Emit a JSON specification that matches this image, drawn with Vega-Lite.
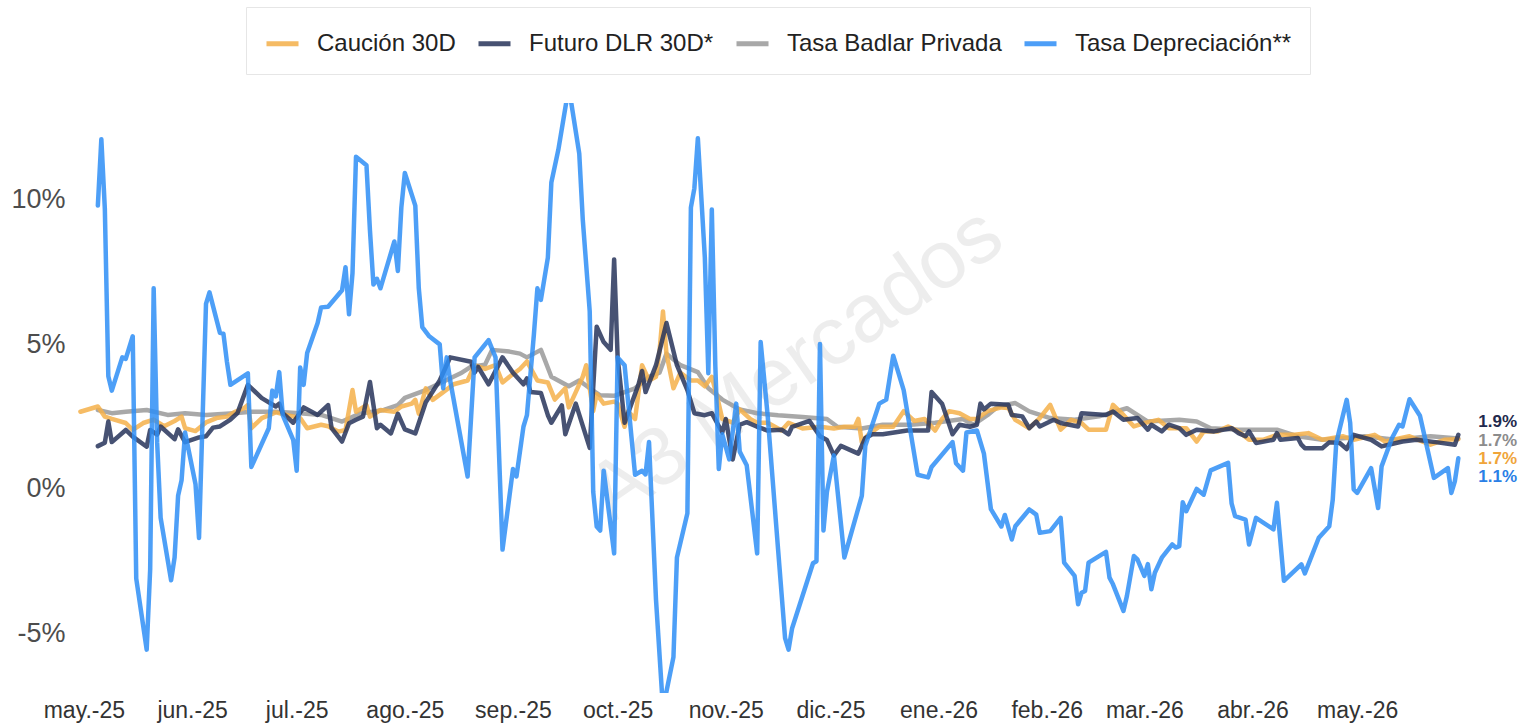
{
  "$schema": "https://vega.github.io/schema/vega-lite/v6.json",
  "width": 1399,
  "height": 590,
  "autosize": {"type": "none"},
  "padding": {"left": 73, "top": 103, "right": 57, "bottom": 30},
  "background": "white",
  "config": {
    "view": {"stroke": null},
    "font": "Liberation Sans",
    "axis": {"domain": false, "ticks": false, "tickSize": 0, "title": null, "labelFont": "Liberation Sans"}
  },
  "datasets": {
    "marca": [{"texto": "A3 Mercados"}],
    "caucion": [
      {"fecha": "2025-04-30", "valor": 2.67}, {"fecha": "2025-05-05", "valor": 2.85}, {"fecha": "2025-05-07", "valor": 2.5}, {"fecha": "2025-05-09", "valor": 2.42}, {"fecha": "2025-05-13", "valor": 2.28}, {"fecha": "2025-05-15", "valor": 2.04}, {"fecha": "2025-05-18", "valor": 2.28}, {"fecha": "2025-05-21", "valor": 2.4}, {"fecha": "2025-05-24", "valor": 2.17}, {"fecha": "2025-05-27", "valor": 2.35}, {"fecha": "2025-05-29", "valor": 2.5}, {"fecha": "2025-05-30", "valor": 2.1},
      {"fecha": "2025-06-02", "valor": 2.0}, {"fecha": "2025-06-05", "valor": 2.3}, {"fecha": "2025-06-08", "valor": 2.45}, {"fecha": "2025-06-11", "valor": 2.5}, {"fecha": "2025-06-13", "valor": 2.65}, {"fecha": "2025-06-16", "valor": 2.8}, {"fecha": "2025-06-17", "valor": 2.9}, {"fecha": "2025-06-18", "valor": 2.1}, {"fecha": "2025-06-21", "valor": 2.45}, {"fecha": "2025-06-25", "valor": 2.65}, {"fecha": "2025-06-28", "valor": 2.56},
      {"fecha": "2025-07-02", "valor": 2.45}, {"fecha": "2025-07-04", "valor": 2.1}, {"fecha": "2025-07-08", "valor": 2.22}, {"fecha": "2025-07-10", "valor": 2.17}, {"fecha": "2025-07-13", "valor": 1.98}, {"fecha": "2025-07-15", "valor": 2.04}, {"fecha": "2025-07-17", "valor": 3.42}, {"fecha": "2025-07-18", "valor": 2.67}, {"fecha": "2025-07-21", "valor": 2.9}, {"fecha": "2025-07-22", "valor": 2.5}, {"fecha": "2025-07-25", "valor": 2.73}, {"fecha": "2025-07-29", "valor": 2.67}, {"fecha": "2025-07-31", "valor": 2.85},
      {"fecha": "2025-08-03", "valor": 2.95}, {"fecha": "2025-08-04", "valor": 3.08}, {"fecha": "2025-08-05", "valor": 2.6}, {"fecha": "2025-08-07", "valor": 3.48}, {"fecha": "2025-08-09", "valor": 3.08}, {"fecha": "2025-08-12", "valor": 3.35}, {"fecha": "2025-08-15", "valor": 3.62}, {"fecha": "2025-08-19", "valor": 3.75}, {"fecha": "2025-08-21", "valor": 4.28}, {"fecha": "2025-08-24", "valor": 4.15}, {"fecha": "2025-08-27", "valor": 4.28}, {"fecha": "2025-08-29", "valor": 3.68}, {"fecha": "2025-08-31", "valor": 3.88},
      {"fecha": "2025-09-03", "valor": 4.15}, {"fecha": "2025-09-05", "valor": 4.41}, {"fecha": "2025-09-08", "valor": 3.75}, {"fecha": "2025-09-11", "valor": 3.68}, {"fecha": "2025-09-13", "valor": 3.09}, {"fecha": "2025-09-16", "valor": 3.48}, {"fecha": "2025-09-17", "valor": 2.82}, {"fecha": "2025-09-19", "valor": 3.35}, {"fecha": "2025-09-21", "valor": 3.88}, {"fecha": "2025-09-22", "valor": 4.28}, {"fecha": "2025-09-24", "valor": 2.69}, {"fecha": "2025-09-25", "valor": 3.28}, {"fecha": "2025-09-27", "valor": 2.95}, {"fecha": "2025-09-30", "valor": 3.02},
      {"fecha": "2025-10-01", "valor": 2.95}, {"fecha": "2025-10-03", "valor": 2.15}, {"fecha": "2025-10-04", "valor": 2.69}, {"fecha": "2025-10-06", "valor": 2.42}, {"fecha": "2025-10-08", "valor": 4.28}, {"fecha": "2025-10-10", "valor": 3.75}, {"fecha": "2025-10-12", "valor": 3.88}, {"fecha": "2025-10-13", "valor": 4.75}, {"fecha": "2025-10-14", "valor": 6.14}, {"fecha": "2025-10-15", "valor": 4.68}, {"fecha": "2025-10-17", "valor": 3.48}, {"fecha": "2025-10-19", "valor": 4.02}, {"fecha": "2025-10-22", "valor": 3.75}, {"fecha": "2025-10-24", "valor": 3.75}, {"fecha": "2025-10-26", "valor": 3.55}, {"fecha": "2025-10-28", "valor": 3.88}, {"fecha": "2025-10-30", "valor": 2.95}, {"fecha": "2025-10-31", "valor": 2.42},
      {"fecha": "2025-11-03", "valor": 2.29}, {"fecha": "2025-11-05", "valor": 2.75}, {"fecha": "2025-11-08", "valor": 2.42}, {"fecha": "2025-11-10", "valor": 2.29}, {"fecha": "2025-11-13", "valor": 2.29}, {"fecha": "2025-11-17", "valor": 2.02}, {"fecha": "2025-11-19", "valor": 2.29}, {"fecha": "2025-11-23", "valor": 2.09}, {"fecha": "2025-11-28", "valor": 2.15},
      {"fecha": "2025-12-02", "valor": 2.09}, {"fecha": "2025-12-05", "valor": 2.15}, {"fecha": "2025-12-08", "valor": 2.15}, {"fecha": "2025-12-09", "valor": 2.42}, {"fecha": "2025-12-10", "valor": 1.62}, {"fecha": "2025-12-12", "valor": 1.89}, {"fecha": "2025-12-15", "valor": 2.15}, {"fecha": "2025-12-19", "valor": 2.15}, {"fecha": "2025-12-22", "valor": 2.69}, {"fecha": "2025-12-25", "valor": 2.35}, {"fecha": "2025-12-28", "valor": 2.42}, {"fecha": "2025-12-31", "valor": 2.02},
      {"fecha": "2026-01-02", "valor": 2.42}, {"fecha": "2026-01-04", "valor": 2.69}, {"fecha": "2026-01-07", "valor": 2.62}, {"fecha": "2026-01-10", "valor": 2.42}, {"fecha": "2026-01-12", "valor": 2.42}, {"fecha": "2026-01-15", "valor": 2.69}, {"fecha": "2026-01-19", "valor": 2.82}, {"fecha": "2026-01-21", "valor": 2.8}, {"fecha": "2026-01-23", "valor": 2.39}, {"fecha": "2026-01-27", "valor": 2.1}, {"fecha": "2026-01-30", "valor": 2.45},
      {"fecha": "2026-02-02", "valor": 2.91}, {"fecha": "2026-02-05", "valor": 2.05}, {"fecha": "2026-02-08", "valor": 2.39}, {"fecha": "2026-02-11", "valor": 2.28}, {"fecha": "2026-02-13", "valor": 2.05}, {"fecha": "2026-02-18", "valor": 2.05}, {"fecha": "2026-02-20", "valor": 2.91}, {"fecha": "2026-02-23", "valor": 2.56}, {"fecha": "2026-02-26", "valor": 2.16},
      {"fecha": "2026-03-01", "valor": 2.28}, {"fecha": "2026-03-05", "valor": 2.39}, {"fecha": "2026-03-08", "valor": 2.1}, {"fecha": "2026-03-13", "valor": 2.1}, {"fecha": "2026-03-16", "valor": 1.64}, {"fecha": "2026-03-18", "valor": 1.99}, {"fecha": "2026-03-22", "valor": 1.99}, {"fecha": "2026-03-25", "valor": 2.16}, {"fecha": "2026-03-28", "valor": 1.99}, {"fecha": "2026-03-31", "valor": 1.7},
      {"fecha": "2026-04-04", "valor": 1.7}, {"fecha": "2026-04-08", "valor": 1.87}, {"fecha": "2026-04-13", "valor": 1.87}, {"fecha": "2026-04-17", "valor": 1.93}, {"fecha": "2026-04-21", "valor": 1.7}, {"fecha": "2026-04-27", "valor": 1.82}, {"fecha": "2026-04-30", "valor": 1.7},
      {"fecha": "2026-05-06", "valor": 1.87}, {"fecha": "2026-05-09", "valor": 1.64}, {"fecha": "2026-05-16", "valor": 1.82}, {"fecha": "2026-05-22", "valor": 1.53}, {"fecha": "2026-05-26", "valor": 1.7}, {"fecha": "2026-05-30", "valor": 1.72}
    ],
    "futuro": [
      {"fecha": "2025-05-05", "valor": 1.48}, {"fecha": "2025-05-07", "valor": 1.6}, {"fecha": "2025-05-08", "valor": 2.33}, {"fecha": "2025-05-09", "valor": 1.62}, {"fecha": "2025-05-13", "valor": 2.04}, {"fecha": "2025-05-15", "valor": 1.81}, {"fecha": "2025-05-19", "valor": 1.46}, {"fecha": "2025-05-20", "valor": 2.04}, {"fecha": "2025-05-22", "valor": 1.88}, {"fecha": "2025-05-23", "valor": 2.16}, {"fecha": "2025-05-27", "valor": 1.72}, {"fecha": "2025-05-28", "valor": 2.06}, {"fecha": "2025-05-30", "valor": 1.62},
      {"fecha": "2025-06-03", "valor": 1.78}, {"fecha": "2025-06-05", "valor": 1.82}, {"fecha": "2025-06-07", "valor": 2.12}, {"fecha": "2025-06-09", "valor": 2.16}, {"fecha": "2025-06-12", "valor": 2.4}, {"fecha": "2025-06-14", "valor": 2.62}, {"fecha": "2025-06-17", "valor": 3.6}, {"fecha": "2025-06-21", "valor": 3.14}, {"fecha": "2025-06-25", "valor": 2.85}, {"fecha": "2025-06-26", "valor": 2.95}, {"fecha": "2025-06-27", "valor": 2.62}, {"fecha": "2025-06-30", "valor": 2.29},
      {"fecha": "2025-07-03", "valor": 2.82}, {"fecha": "2025-07-07", "valor": 2.56}, {"fecha": "2025-07-10", "valor": 2.9}, {"fecha": "2025-07-11", "valor": 2.1}, {"fecha": "2025-07-14", "valor": 1.64}, {"fecha": "2025-07-16", "valor": 2.27}, {"fecha": "2025-07-18", "valor": 2.39}, {"fecha": "2025-07-20", "valor": 2.5}, {"fecha": "2025-07-22", "valor": 3.7}, {"fecha": "2025-07-24", "valor": 2.1}, {"fecha": "2025-07-25", "valor": 2.22}, {"fecha": "2025-07-28", "valor": 1.92}, {"fecha": "2025-07-30", "valor": 2.6},
      {"fecha": "2025-08-01", "valor": 2.06}, {"fecha": "2025-08-04", "valor": 1.92}, {"fecha": "2025-08-07", "valor": 3.0}, {"fecha": "2025-08-11", "valor": 3.75}, {"fecha": "2025-08-14", "valor": 4.55}, {"fecha": "2025-08-20", "valor": 4.4}, {"fecha": "2025-08-21", "valor": 4.02}, {"fecha": "2025-08-22", "valor": 4.22}, {"fecha": "2025-08-25", "valor": 3.62}, {"fecha": "2025-08-29", "valor": 4.55},
      {"fecha": "2025-09-01", "valor": 4.02}, {"fecha": "2025-09-04", "valor": 3.62}, {"fecha": "2025-09-05", "valor": 3.82}, {"fecha": "2025-09-06", "valor": 3.35}, {"fecha": "2025-09-09", "valor": 3.32}, {"fecha": "2025-09-11", "valor": 2.55}, {"fecha": "2025-09-12", "valor": 2.29}, {"fecha": "2025-09-15", "valor": 2.89}, {"fecha": "2025-09-16", "valor": 1.89}, {"fecha": "2025-09-19", "valor": 2.95}, {"fecha": "2025-09-23", "valor": 1.42}, {"fecha": "2025-09-25", "valor": 5.61}, {"fecha": "2025-09-27", "valor": 5.08}, {"fecha": "2025-09-29", "valor": 4.81}, {"fecha": "2025-09-30", "valor": 7.94},
      {"fecha": "2025-10-01", "valor": 4.55}, {"fecha": "2025-10-03", "valor": 2.29}, {"fecha": "2025-10-07", "valor": 3.62}, {"fecha": "2025-10-08", "valor": 4.08}, {"fecha": "2025-10-09", "valor": 3.35}, {"fecha": "2025-10-12", "valor": 4.28}, {"fecha": "2025-10-15", "valor": 5.74}, {"fecha": "2025-10-18", "valor": 4.28}, {"fecha": "2025-10-21", "valor": 3.42}, {"fecha": "2025-10-23", "valor": 2.62}, {"fecha": "2025-10-26", "valor": 2.55}, {"fecha": "2025-10-28", "valor": 2.62}, {"fecha": "2025-10-31", "valor": 1.95},
      {"fecha": "2025-11-01", "valor": 2.42}, {"fecha": "2025-11-03", "valor": 1.02}, {"fecha": "2025-11-05", "valor": 2.22}, {"fecha": "2025-11-07", "valor": 2.31}, {"fecha": "2025-11-10", "valor": 2.15}, {"fecha": "2025-11-13", "valor": 2.02}, {"fecha": "2025-11-17", "valor": 2.05}, {"fecha": "2025-11-19", "valor": 1.89}, {"fecha": "2025-11-20", "valor": 2.15}, {"fecha": "2025-11-25", "valor": 2.35}, {"fecha": "2025-11-28", "valor": 1.82}, {"fecha": "2025-11-30", "valor": 1.69},
      {"fecha": "2025-12-02", "valor": 1.16}, {"fecha": "2025-12-04", "valor": 1.49}, {"fecha": "2025-12-09", "valor": 1.22}, {"fecha": "2025-12-11", "valor": 1.76}, {"fecha": "2025-12-13", "valor": 1.89}, {"fecha": "2025-12-16", "valor": 1.89}, {"fecha": "2025-12-23", "valor": 2.02}, {"fecha": "2025-12-29", "valor": 2.02}, {"fecha": "2025-12-30", "valor": 3.35},
      {"fecha": "2026-01-02", "valor": 2.95}, {"fecha": "2026-01-05", "valor": 1.89}, {"fecha": "2026-01-07", "valor": 2.22}, {"fecha": "2026-01-10", "valor": 2.15}, {"fecha": "2026-01-12", "valor": 2.22}, {"fecha": "2026-01-13", "valor": 2.95}, {"fecha": "2026-01-14", "valor": 2.75}, {"fecha": "2026-01-16", "valor": 2.95}, {"fecha": "2026-01-21", "valor": 2.91}, {"fecha": "2026-01-22", "valor": 2.56}, {"fecha": "2026-01-25", "valor": 2.51}, {"fecha": "2026-01-27", "valor": 2.1}, {"fecha": "2026-01-29", "valor": 2.33}, {"fecha": "2026-01-30", "valor": 2.16},
      {"fecha": "2026-02-03", "valor": 2.39}, {"fecha": "2026-02-05", "valor": 2.28}, {"fecha": "2026-02-10", "valor": 2.16}, {"fecha": "2026-02-11", "valor": 2.62}, {"fecha": "2026-02-18", "valor": 2.56}, {"fecha": "2026-02-20", "valor": 2.68}, {"fecha": "2026-02-23", "valor": 2.39}, {"fecha": "2026-02-27", "valor": 2.45},
      {"fecha": "2026-03-02", "valor": 2.05}, {"fecha": "2026-03-03", "valor": 2.22}, {"fecha": "2026-03-06", "valor": 1.99}, {"fecha": "2026-03-08", "valor": 2.22}, {"fecha": "2026-03-11", "valor": 2.1}, {"fecha": "2026-03-13", "valor": 1.87}, {"fecha": "2026-03-16", "valor": 2.05}, {"fecha": "2026-03-21", "valor": 1.99}, {"fecha": "2026-03-26", "valor": 2.1}, {"fecha": "2026-03-28", "valor": 1.93}, {"fecha": "2026-03-30", "valor": 1.82}, {"fecha": "2026-03-31", "valor": 1.99},
      {"fecha": "2026-04-02", "valor": 1.59}, {"fecha": "2026-04-07", "valor": 1.7}, {"fecha": "2026-04-08", "valor": 1.93}, {"fecha": "2026-04-09", "valor": 1.7}, {"fecha": "2026-04-14", "valor": 1.76}, {"fecha": "2026-04-15", "valor": 1.53}, {"fecha": "2026-04-16", "valor": 1.41}, {"fecha": "2026-04-21", "valor": 1.41}, {"fecha": "2026-04-23", "valor": 1.61}, {"fecha": "2026-04-26", "valor": 1.59}, {"fecha": "2026-04-28", "valor": 1.38}, {"fecha": "2026-04-30", "valor": 1.87},
      {"fecha": "2026-05-05", "valor": 1.7}, {"fecha": "2026-05-08", "valor": 1.47}, {"fecha": "2026-05-14", "valor": 1.64}, {"fecha": "2026-05-18", "valor": 1.7}, {"fecha": "2026-05-24", "valor": 1.61}, {"fecha": "2026-05-29", "valor": 1.53}, {"fecha": "2026-05-30", "valor": 1.87}
    ],
    "badlar": [
      {"fecha": "2025-05-05", "valor": 2.73}, {"fecha": "2025-05-09", "valor": 2.62}, {"fecha": "2025-05-13", "valor": 2.67}, {"fecha": "2025-05-19", "valor": 2.73}, {"fecha": "2025-05-25", "valor": 2.56}, {"fecha": "2025-05-30", "valor": 2.62},
      {"fecha": "2025-06-05", "valor": 2.56}, {"fecha": "2025-06-13", "valor": 2.62}, {"fecha": "2025-06-18", "valor": 2.67}, {"fecha": "2025-06-25", "valor": 2.67},
      {"fecha": "2025-07-02", "valor": 2.62}, {"fecha": "2025-07-08", "valor": 2.56}, {"fecha": "2025-07-14", "valor": 2.33}, {"fecha": "2025-07-19", "valor": 2.6}, {"fecha": "2025-07-26", "valor": 2.73}, {"fecha": "2025-07-30", "valor": 2.9},
      {"fecha": "2025-08-01", "valor": 3.15}, {"fecha": "2025-08-07", "valor": 3.42}, {"fecha": "2025-08-13", "valor": 3.77}, {"fecha": "2025-08-17", "valor": 4.0}, {"fecha": "2025-08-20", "valor": 4.23}, {"fecha": "2025-08-24", "valor": 4.3}, {"fecha": "2025-08-26", "valor": 4.81}, {"fecha": "2025-08-31", "valor": 4.75},
      {"fecha": "2025-09-03", "valor": 4.68}, {"fecha": "2025-09-05", "valor": 4.55}, {"fecha": "2025-09-09", "valor": 4.81}, {"fecha": "2025-09-12", "valor": 3.88}, {"fecha": "2025-09-17", "valor": 3.55}, {"fecha": "2025-09-20", "valor": 3.75}, {"fecha": "2025-09-23", "valor": 3.48}, {"fecha": "2025-09-26", "valor": 3.24}, {"fecha": "2025-09-30", "valor": 3.22},
      {"fecha": "2025-10-03", "valor": 3.35}, {"fecha": "2025-10-06", "valor": 3.48}, {"fecha": "2025-10-10", "valor": 3.88}, {"fecha": "2025-10-13", "valor": 4.02}, {"fecha": "2025-10-15", "valor": 4.68}, {"fecha": "2025-10-19", "valor": 4.28}, {"fecha": "2025-10-24", "valor": 4.04}, {"fecha": "2025-10-27", "valor": 3.48}, {"fecha": "2025-10-31", "valor": 3.09},
      {"fecha": "2025-11-05", "valor": 2.75}, {"fecha": "2025-11-10", "valor": 2.62}, {"fecha": "2025-11-16", "valor": 2.55}, {"fecha": "2025-11-23", "valor": 2.49}, {"fecha": "2025-11-30", "valor": 2.42},
      {"fecha": "2025-12-03", "valor": 2.15}, {"fecha": "2025-12-10", "valor": 2.09}, {"fecha": "2025-12-16", "valor": 2.22}, {"fecha": "2025-12-24", "valor": 2.22}, {"fecha": "2025-12-31", "valor": 2.29},
      {"fecha": "2026-01-08", "valor": 2.42}, {"fecha": "2026-01-11", "valor": 2.22}, {"fecha": "2026-01-15", "valor": 2.55}, {"fecha": "2026-01-18", "valor": 2.85}, {"fecha": "2026-01-23", "valor": 2.97}, {"fecha": "2026-01-27", "valor": 2.68},
      {"fecha": "2026-02-02", "valor": 2.45}, {"fecha": "2026-02-09", "valor": 2.39}, {"fecha": "2026-02-16", "valor": 2.51}, {"fecha": "2026-02-24", "valor": 2.79},
      {"fecha": "2026-03-02", "valor": 2.33}, {"fecha": "2026-03-11", "valor": 2.39}, {"fecha": "2026-03-16", "valor": 2.33}, {"fecha": "2026-03-20", "valor": 2.1}, {"fecha": "2026-03-28", "valor": 2.05},
      {"fecha": "2026-04-01", "valor": 2.05}, {"fecha": "2026-04-08", "valor": 2.05}, {"fecha": "2026-04-14", "valor": 1.82}, {"fecha": "2026-04-21", "valor": 1.7}, {"fecha": "2026-04-28", "valor": 1.76},
      {"fecha": "2026-05-03", "valor": 1.82}, {"fecha": "2026-05-12", "valor": 1.7}, {"fecha": "2026-05-22", "valor": 1.82}, {"fecha": "2026-05-30", "valor": 1.74}
    ],
    "depreciacion": [
      {"fecha": "2025-05-05", "valor": 9.8}, {"fecha": "2025-05-06", "valor": 12.1}, {"fecha": "2025-05-07", "valor": 9.7}, {"fecha": "2025-05-08", "valor": 3.9}, {"fecha": "2025-05-09", "valor": 3.4}, {"fecha": "2025-05-12", "valor": 4.55}, {"fecha": "2025-05-13", "valor": 4.5}, {"fecha": "2025-05-15", "valor": 5.28}, {"fecha": "2025-05-16", "valor": -3.1}, {"fecha": "2025-05-19", "valor": -5.56}, {"fecha": "2025-05-20", "valor": -2.77}, {"fecha": "2025-05-21", "valor": 6.94}, {"fecha": "2025-05-22", "valor": 1.6}, {"fecha": "2025-05-23", "valor": -1.0}, {"fecha": "2025-05-26", "valor": -3.16}, {"fecha": "2025-05-27", "valor": -2.37}, {"fecha": "2025-05-28", "valor": -0.24}, {"fecha": "2025-05-29", "valor": 0.3}, {"fecha": "2025-05-30", "valor": 1.95},
      {"fecha": "2025-06-02", "valor": 0.16}, {"fecha": "2025-06-03", "valor": -1.7}, {"fecha": "2025-06-05", "valor": 6.4}, {"fecha": "2025-06-06", "valor": 6.8}, {"fecha": "2025-06-09", "valor": 5.4}, {"fecha": "2025-06-10", "valor": 5.37}, {"fecha": "2025-06-11", "valor": 4.4}, {"fecha": "2025-06-12", "valor": 3.6}, {"fecha": "2025-06-17", "valor": 4.0}, {"fecha": "2025-06-18", "valor": 0.76}, {"fecha": "2025-06-23", "valor": 2.1}, {"fecha": "2025-06-24", "valor": 3.4}, {"fecha": "2025-06-25", "valor": 3.2}, {"fecha": "2025-06-26", "valor": 4.04}, {"fecha": "2025-06-27", "valor": 2.55}, {"fecha": "2025-06-30", "valor": 1.7},
      {"fecha": "2025-07-01", "valor": 0.63}, {"fecha": "2025-07-02", "valor": 4.2}, {"fecha": "2025-07-03", "valor": 3.6}, {"fecha": "2025-07-04", "valor": 4.7}, {"fecha": "2025-07-07", "valor": 5.74}, {"fecha": "2025-07-08", "valor": 6.28}, {"fecha": "2025-07-10", "valor": 6.3}, {"fecha": "2025-07-14", "valor": 6.87}, {"fecha": "2025-07-15", "valor": 7.67}, {"fecha": "2025-07-16", "valor": 6.04}, {"fecha": "2025-07-17", "valor": 7.47}, {"fecha": "2025-07-18", "valor": 11.49}, {"fecha": "2025-07-21", "valor": 11.2}, {"fecha": "2025-07-22", "valor": 8.94}, {"fecha": "2025-07-23", "valor": 7.07}, {"fecha": "2025-07-24", "valor": 7.27}, {"fecha": "2025-07-25", "valor": 6.94}, {"fecha": "2025-07-29", "valor": 8.56}, {"fecha": "2025-07-30", "valor": 7.54}, {"fecha": "2025-07-31", "valor": 9.73},
      {"fecha": "2025-08-01", "valor": 10.93}, {"fecha": "2025-08-04", "valor": 9.8}, {"fecha": "2025-08-05", "valor": 6.94}, {"fecha": "2025-08-06", "valor": 5.6}, {"fecha": "2025-08-08", "valor": 5.28}, {"fecha": "2025-08-11", "valor": 5.0}, {"fecha": "2025-08-12", "valor": 3.48}, {"fecha": "2025-08-13", "valor": 4.55}, {"fecha": "2025-08-14", "valor": 3.75}, {"fecha": "2025-08-19", "valor": 0.43}, {"fecha": "2025-08-21", "valor": 4.55}, {"fecha": "2025-08-25", "valor": 5.15}, {"fecha": "2025-08-27", "valor": 4.55}, {"fecha": "2025-08-29", "valor": -2.1},
      {"fecha": "2025-09-01", "valor": 0.69}, {"fecha": "2025-09-02", "valor": 0.43}, {"fecha": "2025-09-04", "valor": 2.15}, {"fecha": "2025-09-05", "valor": 2.55}, {"fecha": "2025-09-07", "valor": 5.35}, {"fecha": "2025-09-08", "valor": 6.94}, {"fecha": "2025-09-09", "valor": 6.54}, {"fecha": "2025-09-11", "valor": 8.0}, {"fecha": "2025-09-12", "valor": 10.6}, {"fecha": "2025-09-14", "valor": 11.73}, {"fecha": "2025-09-17", "valor": 13.9}, {"fecha": "2025-09-20", "valor": 11.6}, {"fecha": "2025-09-21", "valor": 9.33}, {"fecha": "2025-09-23", "valor": 6.14}, {"fecha": "2025-09-24", "valor": -0.1}, {"fecha": "2025-09-25", "valor": -1.3}, {"fecha": "2025-09-26", "valor": -1.44}, {"fecha": "2025-09-27", "valor": 0.63}, {"fecha": "2025-09-30", "valor": -2.23},
      {"fecha": "2025-10-01", "valor": 4.55}, {"fecha": "2025-10-03", "valor": 4.28}, {"fecha": "2025-10-06", "valor": 0.49}, {"fecha": "2025-10-08", "valor": 0.63}, {"fecha": "2025-10-09", "valor": 0.5}, {"fecha": "2025-10-10", "valor": 1.62}, {"fecha": "2025-10-12", "valor": -3.83}, {"fecha": "2025-10-14", "valor": -7.6}, {"fecha": "2025-10-17", "valor": -5.82}, {"fecha": "2025-10-18", "valor": -2.37}, {"fecha": "2025-10-21", "valor": -0.84}, {"fecha": "2025-10-22", "valor": 9.73}, {"fecha": "2025-10-23", "valor": 10.4}, {"fecha": "2025-10-24", "valor": 12.13}, {"fecha": "2025-10-26", "valor": 8.0}, {"fecha": "2025-10-27", "valor": 4.0}, {"fecha": "2025-10-28", "valor": 9.67}, {"fecha": "2025-10-29", "valor": 4.28}, {"fecha": "2025-10-30", "valor": 0.69}, {"fecha": "2025-10-31", "valor": 1.89},
      {"fecha": "2025-11-02", "valor": 1.02}, {"fecha": "2025-11-04", "valor": 2.95}, {"fecha": "2025-11-05", "valor": 1.29}, {"fecha": "2025-11-07", "valor": 0.82}, {"fecha": "2025-11-10", "valor": -2.23}, {"fecha": "2025-11-11", "valor": 5.08}, {"fecha": "2025-11-13", "valor": 2.55}, {"fecha": "2025-11-16", "valor": -2.1}, {"fecha": "2025-11-18", "valor": -5.16}, {"fecha": "2025-11-19", "valor": -5.56}, {"fecha": "2025-11-20", "valor": -4.83}, {"fecha": "2025-11-26", "valor": -2.57}, {"fecha": "2025-11-27", "valor": -2.5}, {"fecha": "2025-11-28", "valor": 5.01}, {"fecha": "2025-11-29", "valor": -1.44}, {"fecha": "2025-11-30", "valor": -0.1},
      {"fecha": "2025-12-02", "valor": 1.16}, {"fecha": "2025-12-05", "valor": -2.37}, {"fecha": "2025-12-10", "valor": -0.24}, {"fecha": "2025-12-11", "valor": 1.49}, {"fecha": "2025-12-15", "valor": 2.95}, {"fecha": "2025-12-17", "valor": 3.09}, {"fecha": "2025-12-19", "valor": 4.61}, {"fecha": "2025-12-22", "valor": 3.42}, {"fecha": "2025-12-26", "valor": 0.49}, {"fecha": "2025-12-29", "valor": 0.4}, {"fecha": "2025-12-30", "valor": 0.76},
      {"fecha": "2026-01-05", "valor": 1.62}, {"fecha": "2026-01-06", "valor": 0.89}, {"fecha": "2026-01-08", "valor": 0.63}, {"fecha": "2026-01-09", "valor": 1.95}, {"fecha": "2026-01-12", "valor": 2.02}, {"fecha": "2026-01-14", "valor": 1.22}, {"fecha": "2026-01-16", "valor": -0.7}, {"fecha": "2026-01-19", "valor": -1.3}, {"fecha": "2026-01-20", "valor": -0.9}, {"fecha": "2026-01-22", "valor": -1.75}, {"fecha": "2026-01-23", "valor": -1.29}, {"fecha": "2026-01-27", "valor": -0.71}, {"fecha": "2026-01-29", "valor": -0.89}, {"fecha": "2026-01-30", "valor": -1.52},
      {"fecha": "2026-02-02", "valor": -1.46}, {"fecha": "2026-02-05", "valor": -1.0}, {"fecha": "2026-02-06", "valor": -2.55}, {"fecha": "2026-02-09", "valor": -3.01}, {"fecha": "2026-02-10", "valor": -3.99}, {"fecha": "2026-02-11", "valor": -3.59}, {"fecha": "2026-02-12", "valor": -3.53}, {"fecha": "2026-02-13", "valor": -2.55}, {"fecha": "2026-02-18", "valor": -2.18}, {"fecha": "2026-02-19", "valor": -3.07}, {"fecha": "2026-02-20", "valor": -3.3}, {"fecha": "2026-02-23", "valor": -4.22}, {"fecha": "2026-02-24", "valor": -3.7}, {"fecha": "2026-02-26", "valor": -2.32}, {"fecha": "2026-02-27", "valor": -2.44},
      {"fecha": "2026-03-01", "valor": -3.01}, {"fecha": "2026-03-02", "valor": -2.6}, {"fecha": "2026-03-03", "valor": -3.47}, {"fecha": "2026-03-04", "valor": -2.9}, {"fecha": "2026-03-06", "valor": -2.38}, {"fecha": "2026-03-09", "valor": -1.92}, {"fecha": "2026-03-10", "valor": -2.03}, {"fecha": "2026-03-11", "valor": -1.98}, {"fecha": "2026-03-12", "valor": -0.46}, {"fecha": "2026-03-13", "valor": -0.77}, {"fecha": "2026-03-16", "valor": 0.0}, {"fecha": "2026-03-18", "valor": -0.2}, {"fecha": "2026-03-20", "valor": 0.64}, {"fecha": "2026-03-25", "valor": 0.9}, {"fecha": "2026-03-26", "valor": -0.5}, {"fecha": "2026-03-27", "valor": -0.94}, {"fecha": "2026-03-30", "valor": -1.06}, {"fecha": "2026-03-31", "valor": -1.92},
      {"fecha": "2026-04-02", "valor": -1.0}, {"fecha": "2026-04-07", "valor": -1.4}, {"fecha": "2026-04-08", "valor": -0.48}, {"fecha": "2026-04-10", "valor": -3.18}, {"fecha": "2026-04-15", "valor": -2.61}, {"fecha": "2026-04-16", "valor": -2.92}, {"fecha": "2026-04-20", "valor": -1.69}, {"fecha": "2026-04-23", "valor": -1.29}, {"fecha": "2026-04-24", "valor": -0.37}, {"fecha": "2026-04-25", "valor": 1.59}, {"fecha": "2026-04-28", "valor": 3.08}, {"fecha": "2026-04-29", "valor": 2.28}, {"fecha": "2026-04-30", "valor": -0.02},
      {"fecha": "2026-05-01", "valor": -0.14}, {"fecha": "2026-05-05", "valor": 0.72}, {"fecha": "2026-05-07", "valor": -0.66}, {"fecha": "2026-05-08", "valor": 0.78}, {"fecha": "2026-05-11", "valor": 1.76}, {"fecha": "2026-05-13", "valor": 2.22}, {"fecha": "2026-05-14", "valor": 2.16}, {"fecha": "2026-05-16", "valor": 3.1}, {"fecha": "2026-05-19", "valor": 2.53}, {"fecha": "2026-05-23", "valor": 0.38}, {"fecha": "2026-05-27", "valor": 0.72}, {"fecha": "2026-05-28", "valor": -0.14}, {"fecha": "2026-05-29", "valor": 0.26}, {"fecha": "2026-05-30", "valor": 1.06}
    ]
  },
  "layer": [
    {
      "data": {"name": "marca"},
      "mark": {"type": "text", "fontSize": 82, "angle": 325, "color": "#dddddd", "opacity": 0.5, "align": "center", "baseline": "middle", "font": "Liberation Sans"},
      "encoding": {
        "x": {"datum": {"year": 2025, "month": 11, "date": 21, "utc": true}, "type": "temporal"},
        "y": {"datum": 4.3, "type": "quantitative"},
        "text": {"field": "texto", "type": "nominal"}
      }
    },
    {
      "encoding": {
        "x": {
          "field": "fecha",
          "type": "temporal",
          "title": null,
          "scale": {"type": "utc", "domain": [{"year": 2025, "month": 4, "date": 27, "hours": 21, "utc": true}, {"year": 2026, "month": 6, "date": 2, "hours": 22, "utc": true}]},
          "axis": {
            "values": [
              {"year": 2025, "month": 5, "date": 1, "utc": true}, {"year": 2025, "month": 6, "date": 1, "utc": true}, {"year": 2025, "month": 7, "date": 1, "utc": true},
              {"year": 2025, "month": 8, "date": 1, "utc": true}, {"year": 2025, "month": 9, "date": 1, "utc": true}, {"year": 2025, "month": 10, "date": 1, "utc": true},
              {"year": 2025, "month": 11, "date": 1, "utc": true}, {"year": 2025, "month": 12, "date": 1, "utc": true}, {"year": 2026, "month": 1, "date": 1, "utc": true},
              {"year": 2026, "month": 2, "date": 1, "utc": true}, {"year": 2026, "month": 3, "date": 1, "utc": true}, {"year": 2026, "month": 4, "date": 1, "utc": true},
              {"year": 2026, "month": 5, "date": 1, "utc": true}
            ],
            "labelExpr": "['ene.','feb.','mar.','abr.','may.','jun.','jul.','ago.','sep.','oct.','nov.','dic.'][utcmonth(datum.value)] + '-' + utcFormat(datum.value, '%y')",
            "labelFontSize": 23,
            "labelColor": "#333333",
            "labelPadding": 6,
            "labelFlush": false,
            "labelOverlap": false,
            "gridColor": "#e3e3e3",
            "gridWidth": 1.5,
            "title": null
          }
        },
        "y": {
          "field": "valor",
          "type": "quantitative",
          "title": null,
          "scale": {"domain": [-7.06, 13.35], "nice": false, "zero": false},
          "axis": {
            "values": [-5, 0, 5, 10],
            "labelExpr": "datum.value + '%'",
            "labelFontSize": 27,
            "labelColor": "#4d4d4d",
            "labelPadding": 8,
            "gridColor": "#d8d8d8",
            "gridWidth": 1.5,
            "title": null
          }
        }
      },
      "layer": [
        {
          "data": {"name": "badlar", "format": {"parse": {"fecha": "date"}}},
          "layer": [
            {
              "mark": {"type": "line", "strokeWidth": 4.5, "opacity": 0.85, "strokeJoin": "round", "strokeCap": "round", "clip": true},
              "encoding": {
                "color": {
                  "datum": "Tasa Badlar Privada",
                  "type": "nominal",
                  "scale": {"domain": ["Caución 30D", "Futuro DLR 30D*", "Tasa Badlar Privada", "Tasa Depreciación**"], "range": ["#f4b04a", "#27345a", "#999999", "#2e8ef6"]},
                  "legend": {
                    "orient": "none", "legendX": 173, "legendY": -96, "direction": "horizontal", "title": null,
                    "symbolType": "stroke", "symbolSize": 1024, "symbolStrokeWidth": 5, "symbolOpacity": 0.85,
                    "labelFontSize": 24, "labelColor": "#222222", "labelOffset": 16, "labelLimit": 400, "labelFont": "Liberation Sans",
                    "columnPadding": 12, "padding": 18, "strokeColor": "#e6e6e6", "fillColor": "white"
                  }
                }
              }
            },
            {
              "transform": [{"filter": "time(datum.fecha) == utc(2026, 4, 30)"}, {"calculate": "format(datum.valor, '.1f') + '%'", "as": "etiqueta"}],
              "mark": {"type": "text", "align": "left", "baseline": "middle", "dx": 20, "dy": 2, "fontSize": 17, "fontWeight": "bold", "color": "#8c8c8c"},
              "encoding": {"text": {"field": "etiqueta", "type": "nominal"}}
            }
          ]
        },
        {
          "data": {"name": "caucion", "format": {"parse": {"fecha": "date"}}},
          "layer": [
            {
              "mark": {"type": "line", "strokeWidth": 4.5, "opacity": 0.85, "strokeJoin": "round", "strokeCap": "round", "clip": true},
              "encoding": {"color": {"datum": "Caución 30D", "type": "nominal"}}
            },
            {
              "transform": [{"filter": "time(datum.fecha) == utc(2026, 4, 30)"}, {"calculate": "format(datum.valor, '.1f') + '%'", "as": "etiqueta"}],
              "mark": {"type": "text", "align": "left", "baseline": "middle", "dx": 20, "dy": 20, "fontSize": 17, "fontWeight": "bold", "color": "#f0a53a"},
              "encoding": {"text": {"field": "etiqueta", "type": "nominal"}}
            }
          ]
        },
        {
          "data": {"name": "futuro", "format": {"parse": {"fecha": "date"}}},
          "layer": [
            {
              "mark": {"type": "line", "strokeWidth": 4.5, "opacity": 0.85, "strokeJoin": "round", "strokeCap": "round", "clip": true},
              "encoding": {"color": {"datum": "Futuro DLR 30D*", "type": "nominal"}}
            },
            {
              "transform": [{"filter": "time(datum.fecha) == utc(2026, 4, 30)"}, {"calculate": "format(datum.valor, '.1f') + '%'", "as": "etiqueta"}],
              "mark": {"type": "text", "align": "left", "baseline": "middle", "dx": 20, "dy": -13, "fontSize": 17, "fontWeight": "bold", "color": "#1f2a4d"},
              "encoding": {"text": {"field": "etiqueta", "type": "nominal"}}
            }
          ]
        },
        {
          "data": {"name": "depreciacion", "format": {"parse": {"fecha": "date"}}},
          "layer": [
            {
              "mark": {"type": "line", "strokeWidth": 4.5, "opacity": 0.85, "strokeJoin": "round", "strokeCap": "round", "clip": true},
              "encoding": {"color": {"datum": "Tasa Depreciación**", "type": "nominal"}}
            },
            {
              "transform": [{"filter": "time(datum.fecha) == utc(2026, 4, 30)"}, {"calculate": "format(datum.valor, '.1f') + '%'", "as": "etiqueta"}],
              "mark": {"type": "text", "align": "left", "baseline": "middle", "dx": 20, "dy": 19, "fontSize": 17, "fontWeight": "bold", "color": "#2a7fe6"},
              "encoding": {"text": {"field": "etiqueta", "type": "nominal"}}
            }
          ]
        }
      ]
    }
  ]
}
